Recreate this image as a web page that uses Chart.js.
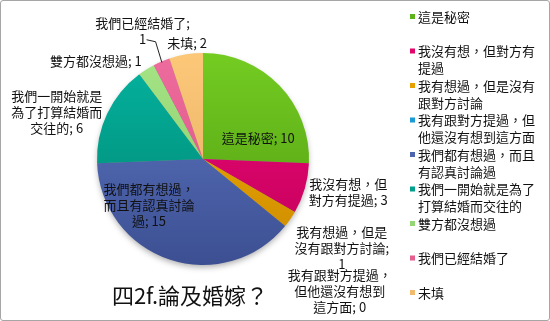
<!DOCTYPE html>
<html>
<head>
<meta charset="utf-8">
<script src="https://cdn.jsdelivr.net/npm/chart.js@4"></script>
<style>
    html, body { margin: 0; padding: 0; background: #fff; }
    .frame {
        position: relative;
        width: 548px;
        height: 319px;
        border: 1px solid #a6a6a6;
        border-radius: 3px;
    }
    canvas { position: absolute; left: -1px; top: -1px; }
</style>
</head>
<body>
<div class="frame">
    <canvas id="marriageChart" width="550" height="321"></canvas>
</div>
<script>
// data
const categories = [
    "這是秘密",
    "我沒有想，但對方有提過",
    "我有想過，但是沒有跟對方討論",
    "我有跟對方提過，但他還沒有想到這方面",
    "我們都有想過，而且有認真討論過",
    "我們一開始就是為了打算結婚而交往的",
    "雙方都沒想過",
    "我們已經結婚了",
    "未填"
];
const counts = [10, 3, 1, 0, 15, 6, 1, 1, 2];
const chartTitle = "四2f.論及婚嫁？";

// slice colours: [top, bottom] of the vertical shading, plus legend swatch
const sliceColors = [
    ["#74cc22", "#4f9a10"],
    ["#f0087a", "#c00058"],
    ["#f4b000", "#cc8a00"],
    ["#20a8e0", "#1080b8"],
    ["#5e78c4", "#3c4f92"],
    ["#04b4a0", "#00826e"],
    ["#a6e486", "#84c866"],
    ["#ee6c9e", "#d8507e"],
    ["#fcc878", "#e4aa62"]
];
const swatchColors = ["#5fb31a", "#e0066a", "#e8a000", "#1a9ad6", "#4d64ae", "#02a08c", "#94d676", "#e45e8e", "#f2ba6e"];

// label layout: centre of each label block in pie-radius units, wrap width in px
const labelAnchor = [
    [0.52, -0.20], [1.37, 0.31], [1.31, 0.84], [1.29, 1.25],
    [-0.51, 0.43], [-1.38, -0.44], [-1.01, -0.92], [-0.57, -1.21], [-0.15, -1.09]
];
const labelWrap = [200, 84, 100, 100, 96, 96, 200, 98, 200];
const legendTop = 17;
const legendStep = 34.5;

const FONT = '"Noto Sans CJK TC", "Noto Sans", sans-serif';
const NO_LINE_START = "，,;；。";

const wrapText = (ctx, text, maxWidth) => {
    const lines = [];
    let line = "";
    for (const ch of text) {
        const next = line + ch;
        if (line && ctx.measureText(next).width > maxWidth && !NO_LINE_START.includes(ch)) {
            lines.push(line.trim());
            line = ch;
        } else {
            line = next;
        }
    }
    if (line.trim()) lines.push(line.trim());
    return lines;
};

const drawBlock = (ctx, lines, cx, cy, lineHeight) => {
    const top = cy - (lines.length - 1) * lineHeight / 2;
    lines.forEach((ln, i) => ctx.fillText(ln, cx, top + i * lineHeight));
};

const annotations = {
    id: "annotations",
    beforeDatasetsDraw(chart) {
        // soft shadow under the pie
        const arc = chart.getDatasetMeta(0).data[0];
        if (!arc) return;
        const ctx = chart.ctx;
        ctx.save();
        ctx.shadowColor = "rgba(0, 0, 0, 0.35)";
        ctx.shadowBlur = 6;
        ctx.shadowOffsetY = 3;
        ctx.fillStyle = "#888";
        ctx.beginPath();
        ctx.arc(arc.x, arc.y, arc.outerRadius - 1, 0, Math.PI * 2);
        ctx.fill();
        ctx.restore();
    },
    afterDatasetsDraw(chart) {
        const ctx = chart.ctx;
        const arcs = chart.getDatasetMeta(0).data;
        const cx = arcs[0].x;
        const cy = arcs[0].y;
        const r = arcs[0].outerRadius;

        ctx.save();
        ctx.fillStyle = "#111";
        ctx.textAlign = "center";
        ctx.textBaseline = "middle";
        ctx.font = "13px " + FONT;

        categories.forEach((name, i) => {
            const lines = wrapText(ctx, `${name}; ${counts[i]}`, labelWrap[i]);
            const lx = cx + labelAnchor[i][0] * r;
            const ly = cy + labelAnchor[i][1] * r;
            drawBlock(ctx, lines, lx, ly, 16);
        });

        // leader line for the small "married" slice
        const married = arcs[7];
        const mid = (married.startAngle + married.endAngle) / 2;
        const ex = cx + Math.cos(mid) * r * 0.99;
        const ey = cy + Math.sin(mid) * r * 0.99;
        const sx = cx + labelAnchor[7][0] * r + 4;
        const sy = cy + labelAnchor[7][1] * r + 9;
        ctx.strokeStyle = "#222";
        ctx.lineWidth = 1;
        ctx.beginPath();
        ctx.moveTo(sx, sy);
        ctx.lineTo(sx + 9, sy + 2);
        ctx.lineTo(ex, ey);
        ctx.stroke();

        // legend
        ctx.textAlign = "left";
        ctx.font = "13px " + FONT;
        categories.forEach((name, i) => {
            const lines = wrapText(ctx, name, 119);
            const y = legendTop + i * legendStep;
            ctx.fillStyle = swatchColors[i];
            ctx.fillRect(410, y - 3, 5, 5);
            ctx.fillStyle = "#111";
            lines.forEach((ln, k) => ctx.fillText(ln, 418, y + k * 17));
        });

        // title
        ctx.textAlign = "center";
        ctx.font = "22px " + FONT;
        ctx.fillStyle = "#111";
        ctx.fillText(chartTitle, 190, 296);
        ctx.restore();
    }
};

const shaded = (context) => {
    const i = context.dataIndex;
    const { chart } = context;
    const area = chart.chartArea;
    if (!area) return sliceColors[i][0];
    const g = chart.ctx.createLinearGradient(0, area.top, 0, area.bottom);
    g.addColorStop(0, sliceColors[i][0]);
    g.addColorStop(1, sliceColors[i][1]);
    return g;
};

new Chart(document.getElementById("marriageChart"), {
    type: "pie",
    data: {
        labels: categories,
        datasets: [{
            data: counts,
            backgroundColor: shaded,
            borderWidth: 0
        }]
    },
    options: {
        responsive: false,
        animation: false,
        layout: { padding: { top: 53, bottom: 56, left: 97, right: 241 } },
        plugins: {
            legend: { display: false },
            title: { display: false },
            tooltip: { enabled: false }
        }
    },
    plugins: [annotations]
});
</script>
</body>
</html>
